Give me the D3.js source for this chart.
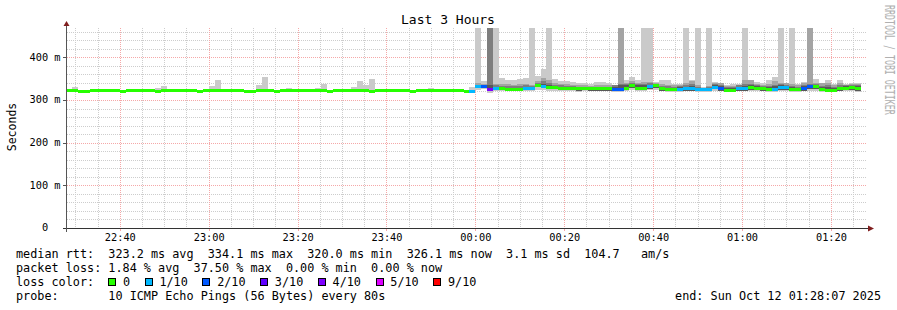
<!DOCTYPE html>
<html>
<head>
<meta charset="utf-8">
<script src="https://cdn.jsdelivr.net/npm/d3@7"></script>
<style>
  html, body { margin: 0; padding: 0; background: #fff; }
  svg { display: block; }
  text { font-family: 'DejaVu Sans Mono', monospace; fill: #000; white-space: pre; }
</style>
</head>
<body>
<svg id="chart" width="897" height="310"></svg>
<script>
// Graph window: the last 3 hours up to the "end" stamp.
const windowStart = new Date(2025, 9, 11, 22, 28, 7);
const windowEnd = new Date(2025, 9, 12, 1, 28, 7);
const firstStep = new Date(2025, 9, 11, 22, 28, 0);
const stepSeconds = 80;
const yMaxMs = 468.75;

// Median rtt per 80s step (ms).
const medianMs = [
  322,322,321,320,322,322,322,322,322,320,322,322,322,322,322,320,322,322,322,322,
  322,322,320,322,322,322,322,322,322,322,320,320,322,322,322,320,322,322,322,322,
  322,322,322,322,320,322,322,322,322,322,322,320,322,322,322,322,322,322,320,322,
  322,322,322,322,322,322,322,320,321,
  331,331,324,327,326,324,325,325,328,328,
  335,332,330,329,328,326,326,326,327,326,
  326,326,326,325,325,328,333,327,328,331,
  334,326,324,324,324,326,326,324,324,324,
  330,326,322,322,327,326,329,328,326,324,
  324,330,330,325,324,327,331,332,324,323,
  323,326,328,329,326
];

// Lost pings out of 10 per step.
const lossCount = [
  0,0,0,0,0,0,0,0,0,0,0,0,0,0,0,0,0,0,0,0,
  0,0,0,0,0,0,0,0,0,0,0,0,0,0,0,0,0,0,0,0,
  0,0,0,0,0,0,0,0,0,0,0,0,0,0,0,0,0,0,0,0,
  0,0,0,0,0,0,0,0,1,
  1,2,4,1,0,0,0,0,1,1,
  0,1,0,0,0,0,0,0,0,0,
  0,0,0,2,2,0,0,0,0,1,
  0,0,0,0,1,1,1,1,1,1,
  1,2,0,0,1,1,0,0,0,0,
  1,1,1,0,0,2,2,0,0,0,
  0,0,0,0,0
];

// Slowest ping per step (ms), null where no smoke shows.
const pingMax = [
  326,331,null,null,null,null,null,null,null,null,null,null,null,null,null,328,333,null,null,null,
  null,null,null,325,333,347,null,null,null,null,null,null,335,354,null,null,null,328,null,null,
  null,null,328,337,null,null,null,null,331,344,335,349,null,null,null,null,null,null,null,null,
  null,328,null,null,null,null,null,null,330,
  500,344,500,500,351,346,347,350,352,500,
  356,372,500,350,344,344,343,339,339,337,
  343,343,341,335,500,348,355,347,500,500,
  343,346,346,337,337,500,346,500,330,500,
  342,341,334,337,338,500,348,343,341,346,
  354,500,341,500,337,342,500,350,341,346,
  337,346,337,340,340
];

// Inner smoke, from the midnight step on (index smokeFrom in the arrays above).
const smokeFrom = 69;
const ping9 = [
  340,338,500,338,338,337,336,338,338,334,
  345,352,348,340,338,338,336,334,334,333,
  336,335,335,334,500,340,344,340,343,343,
  339,338,336,334,334,340,344,334,329,333,
  340,339,332,333,336,348,347,338,336,338,
  345,341,339,338,334,340,500,340,339,340,
  335,340,336,338,338
];
const ping8 = [
  336,335,500,334,333,332,332,333,334,332,
  340,345,340,336,334,333,333,331,331,330,
  331,331,331,334,338,338,340,337,338,339,
  337,333,332,331,333,334,338,330,328,330,
  338,336,330,330,334,338,338,335,332,333,
  336,337,336,333,331,336,338,337,333,334,
  331,335,335,336,335
];
const ping7 = [
  334,334,336,331,330,329,329,329,331,330,
  338,338,335,333,331,330,330,329,329,328,
  329,329,329,331,335,334,337,334,335,336,
  336,330,329,328,330,331,333,328,327,328,
  334,332,327,327,331,333,334,332,330,330,
  332,334,333,330,328,332,335,335,330,330,
  328,331,333,333,332
];
const pingLow = [
  327,327,322,324,323,322,322,322,324,324,
  330,327,326,326,324,323,323,322,323,322,
  322,322,322,321,321,324,327,324,325,326,
  328,322,321,321,321,322,322,321,321,321,
  325,322,320,320,322,322,324,324,322,321,
  321,324,324,321,321,322,325,326,321,320,
  320,322,324,324,321
];
const pingMin = [
  323,325,317,321,321,320,320,320,321,322,
  324,323,322,322,321,320,320,319,320,320,
  320,320,320,319,319,321,323,321,322,323,
  324,320,319,319,319,320,320,319,319,319,
  322,320,318,318,320,320,321,321,320,319,
  319,321,321,319,319,320,322,322,319,318,
  318,320,321,321,319
];

const yTickValues = [0, 100, 200, 300, 400];
const yTickLabels = ['  0', '100 m', '200 m', '300 m', '400 m'];

const titleText = 'Last 3 Hours';
const yTitle = 'Seconds';
const watermark = 'RRDTOOL / TOBI OETIKER';
const statLines = [
  'median rtt:  323.2 ms avg  334.1 ms max  320.0 ms min  326.1 ms now  3.1 ms sd  104.7   am/s',
  'packet loss: 1.84 % avg  37.50 % max  0.00 % min  0.00 % now'
];
const lossTitle = 'loss color:';
const lossLabels = ['0', '1/10', '2/10', '3/10', '4/10', '5/10', '9/10'];
const lossColors = ['#26ff00', '#00b8ff', '#0059ff', '#5e00ff', '#7e00ff', '#dd00ff', '#ff0000'];
const probeText = 'probe:       10 ICMP Echo Pings (56 Bytes) every 80s';
const endText = 'end: Sun Oct 12 01:28:07 2025';

class SmokeGraph {
  constructor(_config) {
    this.config = {
      parentElement: _config.parentElement,
      left: 67,
      right: 867,
      top: 28,
      bottom: 228
    };
    this.initVis();
  }

  initVis() {
    let vis = this;
    vis.svg = d3.select(vis.config.parentElement);

    vis.xScale = d3.scaleTime()
      .domain([windowStart, windowEnd])
      .range([vis.config.left, vis.config.right]);

    vis.yScale = d3.scaleLinear()
      .domain([0, yMaxMs])
      .range([vis.config.bottom, vis.config.top]);

    vis.steps = medianMs.map((median, i) => {
      const t0 = new Date(firstStep.getTime() + i * stepSeconds * 1000);
      const j = i - smokeFrom;
      const inner = arr => (j >= 0 ? arr[j] : null);
      return {
        t0: t0,
        t1: new Date(t0.getTime() + stepSeconds * 1000),
        median: median,
        loss: lossCount[i],
        max: pingMax[i],
        min: inner(pingMin),
        low: inner(pingLow),
        p7: inner(ping7),
        p8: inner(ping8),
        p9: inner(ping9)
      };
    });

    vis.svg.append('defs').append('clipPath')
      .attr('id', 'plot-clip')
      .append('rect')
      .attr('x', vis.config.left)
      .attr('y', vis.config.top)
      .attr('width', vis.config.right - vis.config.left)
      .attr('height', vis.config.bottom - vis.config.top);

    vis.renderVis();
  }

  lossColor(loss) {
    if (loss >= 9) return lossColors[6];
    if (loss >= 5) return lossColors[5];
    return lossColors[loss];
  }

  renderVis() {
    let vis = this;
    const x = vis.xScale, y = vis.yScale;

    // grid sits under the smoke
    vis.drawGrid();

    const plot = vis.svg.append('g').attr('clip-path', 'url(#plot-clip)');

    // Smoke bands, outer to inner, like smokeping stacks them.
    const bands = [
      { color: '#cacaca', lo: d => (d.min != null ? d.min : d.median), hi: d => d.max },
      { color: '#a4a4a4', lo: d => d.low, hi: d => d.p9 },
      { color: '#7e7e7e', lo: d => d.low, hi: d => d.p8 },
      { color: '#585858', lo: d => d.low, hi: d => d.p7 }
    ];

    bands.forEach(b => {
      plot.append('g')
        .selectAll('rect')
        .data(vis.steps.filter(d => b.hi(d) != null && b.lo(d) != null))
        .join('rect')
        .attr('x', d => x(d.t0))
        .attr('width', d => x(d.t1) - x(d.t0))
        .attr('y', d => y(Math.min(b.hi(d), yMaxMs + 5)))
        .attr('height', d => y(b.lo(d)) - y(Math.min(b.hi(d), yMaxMs + 5)))
        .attr('fill', b.color)
        .attr('shape-rendering', 'crispEdges');
    });

    // Median line, coloured by packet loss.
    plot.append('g')
      .selectAll('rect')
      .data(vis.steps)
      .join('rect')
      .attr('x', d => x(d.t0))
      .attr('width', d => x(d.t1) - x(d.t0))
      .attr('y', d => y(d.median) - 1.5)
      .attr('height', 3)
      .attr('fill', d => vis.lossColor(d.loss))
      .attr('shape-rendering', 'crispEdges');

    vis.drawAxes();
    vis.drawText();
  }

  drawGrid() {
    let vis = this;
    const x = vis.xScale, y = vis.yScale, c = vis.config;
    const grid = vis.svg.append('g').attr('shape-rendering', 'crispEdges');

    const yMinor = d3.range(20, yMaxMs, 20).filter(v => v % 100 !== 0);
    const yMajor = d3.range(100, yMaxMs, 100);
    const tMinor = d3.timeMinute.every(5).range(windowStart, windowEnd).filter(t => t.getMinutes() % 20 !== 0);
    const tMajor = d3.timeMinute.every(20).range(windowStart, windowEnd);

    const hLines = (vals, color) => grid.append('g').selectAll('line').data(vals).join('line')
      .attr('x1', c.left).attr('x2', c.right)
      .attr('y1', d => Math.round(y(d)) + 0.5).attr('y2', d => Math.round(y(d)) + 0.5)
      .attr('stroke', color).attr('stroke-dasharray', '1,1');
    const vLines = (vals, color) => grid.append('g').selectAll('line').data(vals).join('line')
      .attr('y1', c.top).attr('y2', c.bottom)
      .attr('x1', d => Math.round(x(d)) + 0.5).attr('x2', d => Math.round(x(d)) + 0.5)
      .attr('stroke', color).attr('stroke-dasharray', '1,1');

    hLines(yMinor, '#cdcdcd');
    vLines(tMinor, '#cdcdcd');
    hLines(yMajor, '#f5a8a8');
    vLines(tMajor, '#f5a8a8');

    // small ticks on the axes
    grid.append('g').selectAll('line').data(yMajor.concat([0])).join('line')
      .attr('x1', c.left - 4).attr('x2', c.left)
      .attr('y1', d => Math.round(y(d)) + 0.5).attr('y2', d => Math.round(y(d)) + 0.5)
      .attr('stroke', '#555');
    grid.append('g').selectAll('line').data(tMajor).join('line')
      .attr('y1', c.bottom).attr('y2', c.bottom + 3)
      .attr('x1', d => Math.round(x(d)) + 0.5).attr('x2', d => Math.round(x(d)) + 0.5)
      .attr('stroke', '#f5a8a8');
  }

  drawAxes() {
    let vis = this;
    const c = vis.config;
    const axes = vis.svg.append('g').attr('shape-rendering', 'crispEdges');

    axes.append('line')
      .attr('x1', c.left - 4).attr('x2', c.right + 3)
      .attr('y1', c.bottom + 0.5).attr('y2', c.bottom + 0.5)
      .attr('stroke', '#333');
    axes.append('line')
      .attr('x1', c.left - 0.5).attr('x2', c.left - 0.5)
      .attr('y1', c.bottom + 4).attr('y2', c.top - 4)
      .attr('stroke', '#555');

    vis.svg.append('path')
      .attr('d', `M${c.right + 7},${c.bottom + 0.5} L${c.right + 1},${c.bottom - 2.5} L${c.right + 1},${c.bottom + 3.5} Z`)
      .attr('fill', '#801f1f');
    vis.svg.append('path')
      .attr('d', `M${c.left - 0.5},${c.top - 7} L${c.left - 3.5},${c.top - 2} L${c.left + 2.5},${c.top - 2} Z`)
      .attr('fill', '#801f1f');

    // Time labels through a d3 axis, only its text is kept.
    const xAxis = d3.axisBottom(vis.xScale)
      .ticks(d3.timeMinute.every(20))
      .tickFormat(d3.timeFormat('%H:%M'))
      .tickSize(0)
      .tickPadding(5.5);
    const gx = vis.svg.append('g')
      .attr('transform', `translate(0,${c.bottom})`)
      .call(xAxis);
    gx.select('.domain').remove();
    gx.selectAll('text')
      .attr('font-family', 'DejaVu Sans Mono')
      .attr('font-size', 10.3)
      .attr('fill', '#000');

    const yAxis = d3.axisLeft(vis.yScale)
      .tickValues(yTickValues)
      .tickFormat((d, i) => yTickLabels[i])
      .tickSize(0);
    const gy = vis.svg.append('g')
      .attr('transform', `translate(${c.left},0)`)
      .call(yAxis);
    gy.select('.domain').remove();
    gy.selectAll('text')
      .attr('x', 29.5 - c.left)
      .attr('dy', '0.26em')
      .attr('text-anchor', 'start')
      .attr('font-family', 'DejaVu Sans Mono')
      .attr('font-size', 10.3)
      .attr('fill', '#000');
  }

  drawText() {
    let vis = this;
    const svg = vis.svg;

    svg.append('text')
      .attr('x', 448).attr('y', 24)
      .attr('text-anchor', 'middle')
      .attr('font-size', 13)
      .text(titleText);

    svg.append('text')
      .attr('transform', 'translate(15.5,127) rotate(-90)')
      .attr('text-anchor', 'middle')
      .attr('font-size', 11.5)
      .text(yTitle);

    svg.append('text')
      .attr('transform', 'translate(885,5) rotate(90) scale(0.615,1)')
      .attr('font-size', 13.5)
      .style('fill', '#b0b0b0')
      .text(watermark);

    const legendSize = 11.8;
    const baselines = [257.7, 271.8, 285.9, 300];

    statLines.forEach((line, i) => {
      svg.append('text')
        .attr('x', 16).attr('y', baselines[i])
        .attr('font-size', legendSize)
        .text(line);
    });

    svg.append('text')
      .attr('x', 16).attr('y', baselines[2])
      .attr('font-size', legendSize)
      .text(lossTitle);

    let bx = 108.3;
    lossLabels.forEach((label, i) => {
      svg.append('rect')
        .attr('x', Math.round(bx) + 0.5).attr('y', 278.5)
        .attr('width', 7).attr('height', 7)
        .attr('fill', lossColors[i])
        .attr('stroke', '#000')
        .attr('shape-rendering', 'crispEdges');
      const t = svg.append('text')
        .attr('x', bx + 14.7).attr('y', baselines[2])
        .attr('font-size', legendSize)
        .text(label);
      bx = bx + 14.7 + t.node().getComputedTextLength() + 14.6;
    });

    svg.append('text')
      .attr('x', 16).attr('y', baselines[3])
      .attr('font-size', legendSize)
      .text(probeText);

    svg.append('text')
      .attr('x', 881).attr('y', baselines[3])
      .attr('text-anchor', 'end')
      .attr('font-size', legendSize)
      .text(endText);
  }
}

new SmokeGraph({ parentElement: '#chart' });
</script>
</body>
</html>
